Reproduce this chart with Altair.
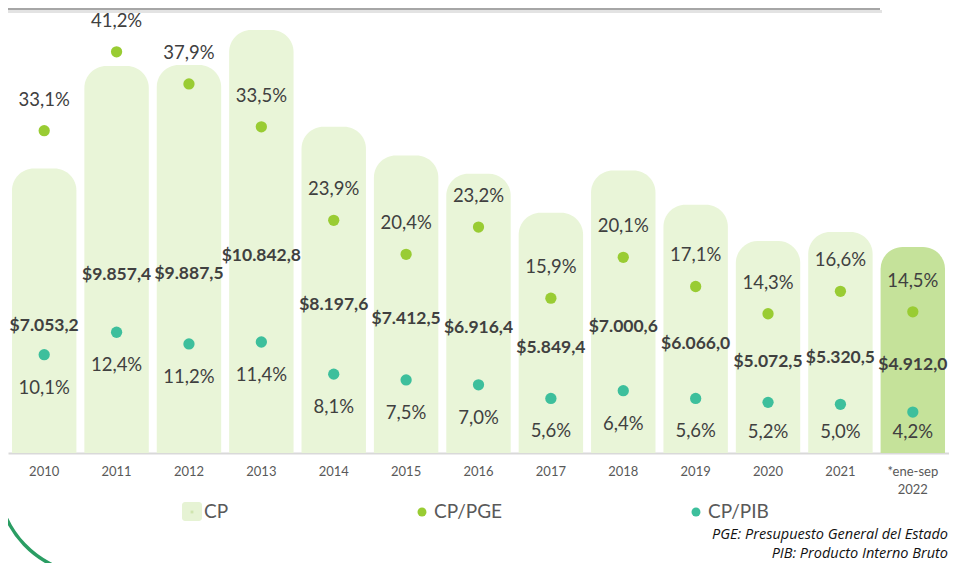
import altair as alt
import pandas as pd

# ---------------- data ----------------
years = ["2010", "2011", "2012", "2013", "2014", "2015", "2016",
         "2017", "2018", "2019", "2020", "2021", "2022"]
cp = [7053.2, 9857.4, 9887.5, 10842.8, 8197.6, 7412.5, 6916.4,
      5849.4, 7000.6, 6066.0, 5072.5, 5320.5, 4912.0]
cp_pge = [33.1, 41.2, 37.9, 33.5, 23.9, 20.4, 23.2, 15.9, 20.1, 17.1, 14.3, 16.6, 14.5]
cp_pib = [10.1, 12.4, 11.2, 11.4, 8.1, 7.5, 7.0, 5.6, 6.4, 5.6, 5.2, 5.0, 4.2]
legend_labels = ["CP", "CP/PGE", "CP/PIB"]
notes = ["PGE: Presupuesto General del Estado", "PIB: Producto Interno Bruto"]


def fmt_money(v):
    s = f"{v:,.1f}"
    return "$" + s.replace(",", "X").replace(".", ",").replace("X", ".")


def fmt_pct(v):
    return f"{v:.1f}".replace(".", ",") + "%"


df = pd.DataFrame({
    "year": years,
    "cp": cp,
    "pge": cp_pge,
    "pib": cp_pib,
    "cp_lbl": [fmt_money(v) for v in cp],
    "pge_lbl": [fmt_pct(v) for v in cp_pge],
    "pib_lbl": [fmt_pct(v) for v in cp_pib],
})

# ---------------- styles ----------------
FONT = "Lato"
TXT = "#404040"
GRAY = "#595959"
BAR = "#e9f5d8"
BAR_LAST = "#c5e29a"
PGE_C = "#99cc33"
PIB_C = "#3dbf9c"
ARC_C = "#2a9d63"

W, H = 941, 445
BASE = -719
bar_scale = alt.Scale(domain=[BASE, 11443])
pct_scale = alt.Scale(domain=[0, 45.7])

x_enc = alt.X(
    "year:N", sort=years,
    scale=alt.Scale(paddingInner=0.11, paddingOuter=0.055),
    axis=alt.Axis(
        title=None, labelAngle=0, ticks=False,
        domainColor="#d9d9d9", domainWidth=2,
        labelColor=GRAY, labelFont=FONT, labelFontSize=13,
        labelPadding=12, labelLineHeight=18,
        labelExpr="datum.value == '2022' ? ['*ene-sep', '2022'] : datum.value",
    ),
)

base = alt.Chart(df)

bars = base.transform_calculate(b=str(BASE)).mark_bar(
    cornerRadiusTopLeft=22, cornerRadiusTopRight=22
).encode(
    x=x_enc,
    y=alt.Y("cp:Q", scale=bar_scale, axis=None),
    y2="b:Q",
    color=alt.condition("datum.year == '2022'", alt.value(BAR_LAST), alt.value(BAR)),
)

cp_text = base.transform_calculate(mid=f"(datum.cp + ({BASE})) / 2").mark_text(
    dy=15, font=FONT, fontSize=17.5, fontWeight="bold", color=TXT
).encode(
    x=alt.X("year:N", sort=years),
    y=alt.Y("mid:Q", scale=bar_scale, axis=None),
    text="cp_lbl:N",
)

pge_dots = base.mark_circle(size=127, opacity=1, color=PGE_C).encode(
    x=alt.X("year:N", sort=years),
    y=alt.Y("pge:Q", scale=pct_scale, axis=None),
)
pge_text = base.mark_text(dy=-31, font=FONT, fontSize=18.5, color=TXT).encode(
    x=alt.X("year:N", sort=years),
    y=alt.Y("pge:Q", scale=pct_scale, axis=None),
    text="pge_lbl:N",
)
pib_dots = base.mark_circle(size=127, opacity=1, color=PIB_C).encode(
    x=alt.X("year:N", sort=years),
    y=alt.Y("pib:Q", scale=pct_scale, axis=None),
)
pib_text = base.transform_calculate(ly="max(datum.pib, 5.55)").mark_text(
    dy=33, font=FONT, fontSize=18.5, color=TXT
).encode(
    x=alt.X("year:N", sort=years),
    y=alt.Y("ly:Q", scale=pct_scale, axis=None),
    text="pib_lbl:N",
)

one = pd.DataFrame({"k": [0]})

# decorative elements
arc = alt.Chart(one).mark_arc(
    radius=99.5, radius2=96, theta=3.3, theta2=4.6, color=ARC_C
).encode(x=alt.value(87), y=alt.value(469))
top_line = alt.Chart(one).mark_rule(color="#a6a6a6", strokeWidth=2).encode(
    x=alt.value(0), x2=alt.value(872), y=alt.value(1)
)
top_shadow = alt.Chart(one).mark_rule(color="#e3e3e3", strokeWidth=3).encode(
    x=alt.value(0), x2=alt.value(874), y=alt.value(3.5)
)

# legend
LY = 504
leg_sq = alt.Chart(one).mark_rect(color="#e6f3d4", cornerRadius=3).encode(
    x=alt.value(174), x2=alt.value(194), y=alt.value(LY - 10), y2=alt.value(LY + 9)
)
leg_sq_dot = alt.Chart(one).mark_square(size=8, color="#cfe4ae", opacity=1).encode(
    x=alt.value(184), y=alt.value(LY)
)
leg_pge = alt.Chart(one).mark_circle(size=80, color=PGE_C, opacity=1).encode(
    x=alt.value(414), y=alt.value(LY)
)
leg_pib = alt.Chart(one).mark_circle(size=80, color=PIB_C, opacity=1).encode(
    x=alt.value(688), y=alt.value(LY)
)
leg_texts = []
for lbl, xx in zip(legend_labels, [196, 426, 700]):
    leg_texts.append(
        alt.Chart(pd.DataFrame({"t": [lbl]})).mark_text(
            align="left", baseline="middle", font=FONT, fontSize=19, color=GRAY
        ).encode(x=alt.value(xx), y=alt.value(LY), text="t:N")
    )

note_layers = []
for note, yy in zip(notes, [527, 546]):
    note_layers.append(
        alt.Chart(pd.DataFrame({"t": [note]})).mark_text(
            align="right", baseline="middle", font="Open Sans", fontSize=14.5,
            fontStyle="italic", color="#111111"
        ).encode(x=alt.value(940), y=alt.value(yy), text="t:N")
    )

chart = alt.layer(
    arc, top_shadow, top_line,
    bars, cp_text, pge_dots, pge_text, pib_dots, pib_text,
    leg_sq, leg_sq_dot, leg_pge, leg_pib, *leg_texts, *note_layers,
).resolve_scale(y="independent").properties(
    width=W, height=H,
    padding={"left": 0, "top": 0, "right": 0, "bottom": 110},
    autosize=alt.AutoSizeParams(type="none"),
    background="white",
).configure_view(stroke=None)

chart.save("out.html", embed_options={"renderer": "svg", "actions": False})
